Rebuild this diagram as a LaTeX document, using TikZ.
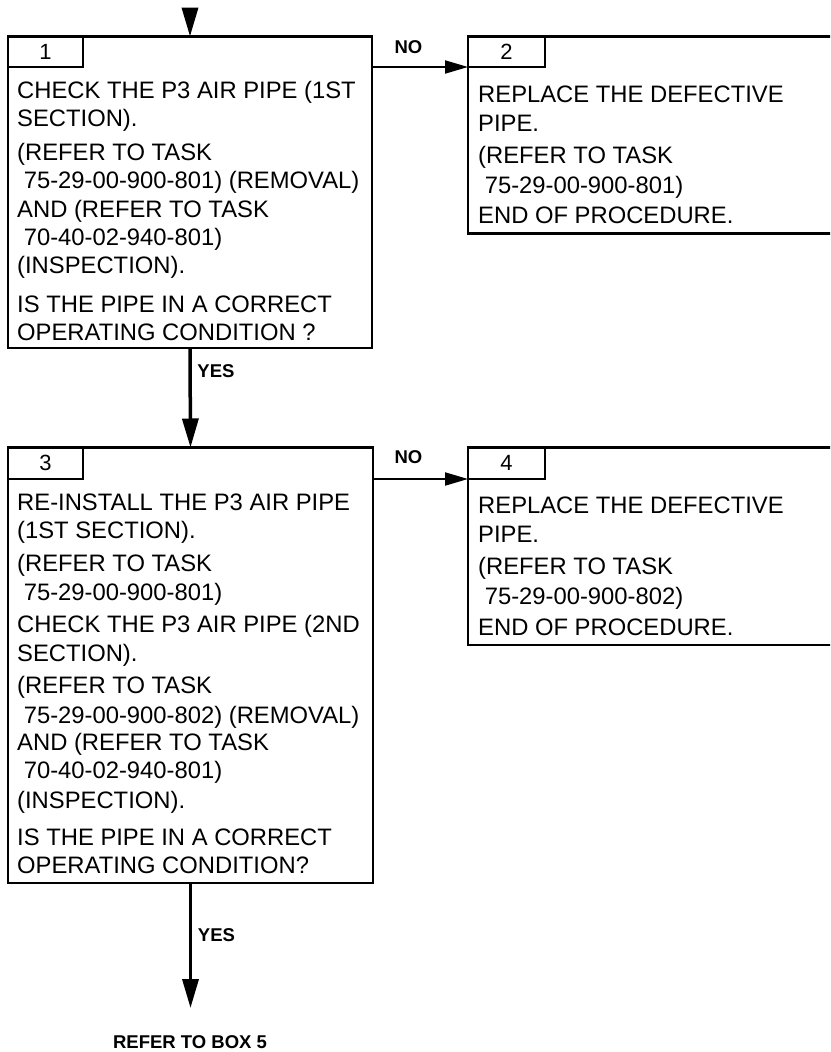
\documentclass[tikz,border=0pt]{standalone}
\usepackage{fontspec}
\setmainfont{Liberation Sans}
\usetikzlibrary{arrows.meta}
\tikzset{
  box/.style={draw, line width=2.2pt, anchor=north west, inner sep=0pt, outer sep=0pt},
  txt/.style={anchor=base west, inner sep=0pt, font=\fontsize{23.8}{28}\selectfont},
  num/.style={inner sep=0pt, font=\fontsize{22}{24}\selectfont},
  lab/.style={inner sep=0pt, font=\bfseries\fontsize{18.5}{20}\selectfont},
  varrow/.style={line width=3.5pt, -{Triangle[length=29pt,width=16pt]}},
  harrow/.style={line width=2pt, -{Triangle[length=23pt,width=13pt]}}
}
\begin{document}
\begin{tikzpicture}[x=1pt,y=-1pt]
\useasboundingbox (0,0) rectangle (830,1052);
\clip (0,0) rectangle (830,1052);
% boxes
\node[box, minimum width=364pt, minimum height=311.5pt] (b1) at (8,36.5) {};
\node[box, minimum width=75pt, minimum height=30.5pt] (t1) at (8,36.5) {};
\node[num] (n1) at (t1.center) {1};
\node[box, minimum width=390pt, minimum height=197pt] (b2) at (468,36.5) {};
\node[box, minimum width=77pt, minimum height=30.5pt] (t2) at (468,36.5) {};
\node[num] (n2) at (t2.center) {2};
\node[box, minimum width=365pt, minimum height=435.5pt] (b3) at (8,447.5) {};
\node[box, minimum width=75pt, minimum height=31.5pt] (t3) at (8,447.5) {};
\node[num] (n3) at (t3.center) {3};
\node[box, minimum width=390pt, minimum height=197.5pt] (b4) at (468,447.5) {};
\node[box, minimum width=77pt, minimum height=31.5pt] (t4) at (468,447.5) {};
\node[num] (n4) at (t4.center) {4};
% texts
\foreach \yy/\tt [count=\i] in {98/{CHECK THE P3 AIR PIPE (1ST}, 126/{SECTION).}, 160/{(REFER TO TASK}, 188/{\ 75-29-00-900-801) (REMOVAL)}, 217/{AND (REFER TO TASK}, 245/{\ 70-40-02-940-801)}, 273/{(INSPECTION).}, 312/{IS THE PIPE IN A CORRECT}, 340/{OPERATING CONDITION ?}}
  \node[txt] (b1-\i) at (17,\yy) {\tt};
\foreach \yy/\tt [count=\i] in {102/{REPLACE THE DEFECTIVE}, 131/{PIPE.}, 163/{(REFER TO TASK}, 193/{\ 75-29-00-900-801)}, 223/{END OF PROCEDURE.}}
  \node[txt] (b2-\i) at (478,\yy) {\tt};
\foreach \yy/\tt [count=\i] in {510/{RE-INSTALL THE P3 AIR PIPE}, 538/{(1ST SECTION).}, 571/{(REFER TO TASK}, 600/{\ 75-29-00-900-801)}, 632/{CHECK THE P3 AIR PIPE (2ND}, 661/{SECTION).}, 693/{(REFER TO TASK}, 723/{\ 75-29-00-900-802) (REMOVAL)}, 750/{AND (REFER TO TASK}, 778/{\ 70-40-02-940-801)}, 808/{(INSPECTION).}, 845/{IS THE PIPE IN A CORRECT}, 873/{OPERATING CONDITION?}}
  \node[txt] (b3-\i) at (17,\yy) {\tt};
\foreach \yy/\tt [count=\i] in {513/{REPLACE THE DEFECTIVE}, 542/{PIPE.}, 574/{(REFER TO TASK}, 604/{\ 75-29-00-900-802)}, 635/{END OF PROCEDURE.}}
  \node[txt] (b4-\i) at (478,\yy) {\tt};
% labels
\node[lab] (no1) at (408.5,47) {NO};
\node[lab] (no2) at (408.5,457) {NO};
\node[lab] (yes1) at (216,371.5) {YES};
\node[lab] (yes2) at (216.5,935) {YES};
\node[lab] (ref) at (190,1042) {REFER TO BOX 5};
% connectors
\coordinate (start) at (190,8);
\coordinate (end) at (190.5,1008);
\draw[varrow] (start) -- (b1.north);
\draw[varrow] (b1.south) -- (b3.north);
\draw[varrow] (b3.south) -- (end);
\draw[harrow] (t1.south -| b1.east) -- (t2.south west);
\draw[harrow] (t3.south -| b3.east) -- (t4.south west);
\end{tikzpicture}
\end{document}
